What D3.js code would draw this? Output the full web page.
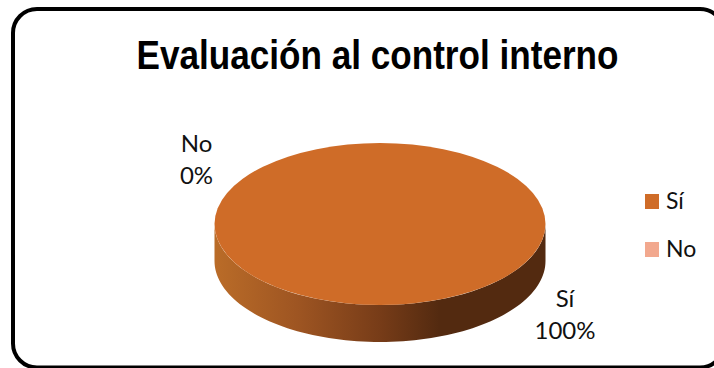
<!DOCTYPE html>
<html><head><meta charset="utf-8">
<script src="https://cdn.jsdelivr.net/npm/d3@7/dist/d3.min.js"></script>
<style>html,body{margin:0;padding:0;background:#fff;overflow:hidden}svg{display:block}</style>
</head><body><svg id="c" width="714" height="368"></svg>
<script>
const categories = ["Sí", "No"];
const values = [100, 0];
const percentLabels = ["100%", "0%"];
const colors = ["#CF6C28", "#F2A88E"];
const chartTitle = "Evaluación al control interno";

const svg = d3.select("#c");
svg.append("rect").attr("x",13).attr("y",9).attr("width",711).attr("height",358.5).attr("rx",24).attr("ry",24)
  .attr("fill","#fff").attr("stroke","#000").attr("stroke-width",4);
svg.append("text").attr("x",377.5).attr("y",68.5).attr("text-anchor","middle")
  .attr("font-family","Liberation Sans").attr("font-weight","bold").attr("font-size",41)
  .attr("textLength",482).attr("lengthAdjust","spacingAndGlyphs").attr("fill","#000").text(chartTitle);

const cx=380, cy=224, rx=165.5, ry=81, depth=37;
const grad = svg.append("defs").append("linearGradient").attr("id","side")
  .attr("gradientUnits","userSpaceOnUse").attr("x1",cx-rx).attr("x2",cx+rx).attr("y1",0).attr("y2",0);
[[0,"#BA6C28"],[.25,"#9E5522"],[.5,"#773C18"],[.68,"#532A10"],[1,"#532A10"]].forEach(s=>
  grad.append("stop").attr("offset",s[0]).attr("stop-color",s[1]));

const pie = d3.pie().sort(null).startAngle(0).endAngle(2*Math.PI);
const arcs = pie(values);
const rim = d3.line().x(d=>d[0]).y(d=>d[1]);
const angles = d3.range(0,181,2).map(a=>a*Math.PI/180);
const front = angles.map(a=>[cx+rx*Math.cos(a), cy+ry*Math.sin(a)]);
const wall = front.concat(front.slice().reverse().map(p=>[p[0],p[1]+depth]));
svg.append("path").attr("d",rim(wall)+"Z").attr("fill","url(#side)");

const arc = d3.arc().innerRadius(0).outerRadius(rx);
svg.append("g").attr("transform",`translate(${cx},${cy}) scale(1,${ry/rx})`)
  .selectAll("path").data(arcs).join("path").attr("d",arc)
  .attr("fill",(d,i)=>colors[i]);

const font="Lato, Open Sans, sans-serif";
const labelPos = {"Sí":[565,307,339],"No":[196.5,152,184]};
categories.forEach((c,i)=>{
  const p=labelPos[c];
  svg.append("text").attr("x",p[0]).attr("y",p[1]).attr("text-anchor","middle").attr("font-family",font).attr("font-size",24).attr("fill","#111").text(c);
  svg.append("text").attr("x",p[0]).attr("y",p[2]).attr("text-anchor","middle").attr("font-family",font).attr("font-size",24).attr("fill","#111").text(percentLabels[i]);
});
const legendY=d3.scalePoint().domain(categories).range([201.5,249.5]);
categories.forEach((c,i)=>{
  svg.append("rect").attr("x",645).attr("y",legendY(c)-7.5).attr("width",14).attr("height",15).attr("fill",colors[i]);
  svg.append("text").attr("x",666).attr("y",legendY(c)+7).attr("font-family",font).attr("font-size",23).attr("fill","#111").text(c);
});
</script></body></html>
